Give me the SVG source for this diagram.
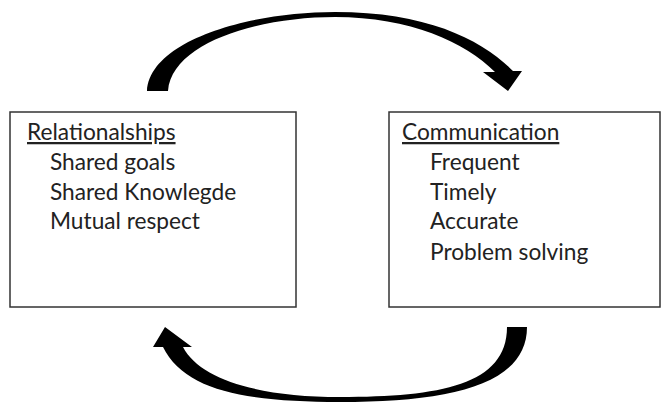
<svg xmlns="http://www.w3.org/2000/svg" width="669" height="405" viewBox="0 0 669 405">
<style>
.box{fill:#fff;stroke:#333;stroke-width:1.5}
.t{font-family:Lato,"Open Sans","Liberation Sans",sans-serif;font-size:22.7px;fill:#222}
.h{text-decoration:underline}
.arrow{fill:#000}
</style>
<rect width="669" height="405" fill="#fff"/>
<g id="relationships">
<rect class="box" x="10" y="112" width="286" height="195"/>
<text class="t h" x="27" y="140">Relationalships</text>
<text class="t" x="50" y="170">Shared goals</text>
<text class="t" x="50" y="200">Shared Knowlegde</text>
<text class="t" x="50" y="229">Mutual respect</text>
</g>
<g id="communication">
<rect class="box" x="389" y="112" width="271" height="195"/>
<text class="t h" x="402" y="140">Communication</text>
<text class="t" x="430" y="170">Frequent</text>
<text class="t" x="430" y="200">Timely</text>
<text class="t" x="430" y="229">Accurate</text>
<text class="t" x="430" y="260">Problem solving</text>
</g>
<g id="connectors">
<path class="arrow" d="M147,91 C150,40 250,12 335,12 C428,12 482,40 513,71 L522,71 L508,91 L483,72 L495,72 C465,42 410,17 335,17 C260,17 172,42 168,91 Z"/>
<path class="arrow" d="M527,327 C527,385 450,402 340,402 C250,402 185,392 163,347 L153,347 L165,327 L192,347 L183,347 C200,380 260,397 340,397 C440,397 507,385 507,327 Z"/>
</g>
</svg>
